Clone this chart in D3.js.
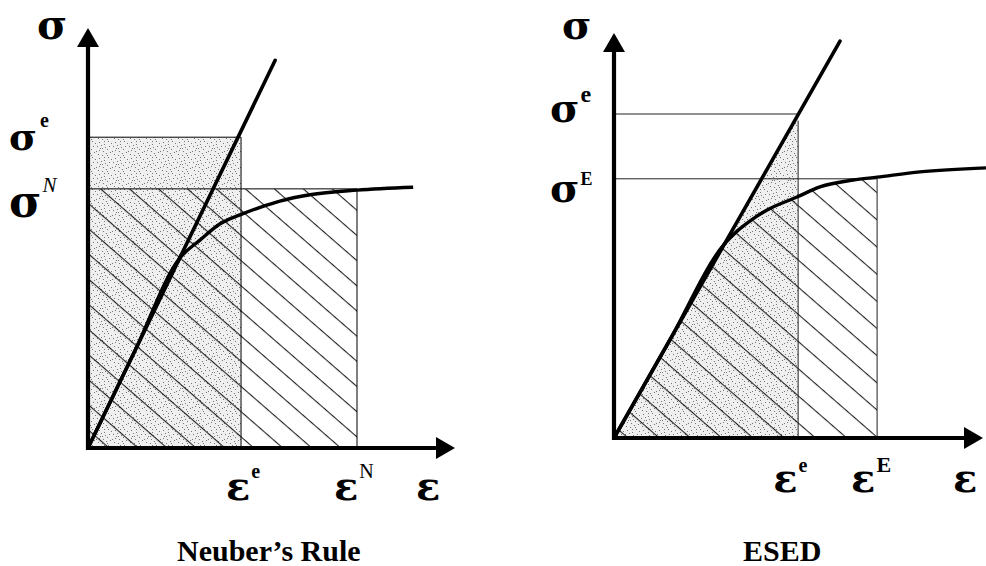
<!DOCTYPE html>
<html><head><meta charset="utf-8">
<script src="https://cdn.jsdelivr.net/npm/d3@7"></script>
<style>body{margin:0;background:#fff}svg{display:block}</style>
</head><body>
<svg id="c" width="986" height="566"></svg>
<script>
// ---------- data (normalised strain / stress units) ----------
// Neuber's rule panel
const leftStrain = [0, 0.125, 0.25, 0.305, 0.36, 0.414, 0.469, 0.523, 0.605, 0.733, 0.886];
const leftStress = [0, 0.226, 0.452, 0.495, 0.534, 0.555, 0.573, 0.588, 0.603, 0.614, 0.621];
const leftModulus = 1.81;          // slope of elastic line
const leftLineEnd = 0.51;          // strain where elastic line stops
const leftEpsE = 0.417, leftEpsN = 0.733;   // ε^e, ε^N
const leftSigE = 0.740, leftSigN = 0.617;   // σ^e, σ^N

// ESED panel
const rightStrain = [0, 0.15, 0.30, 0.335, 0.37, 0.415, 0.496, 0.558, 0.648, 0.713, 0.829, 1.008];
const rightStress = [0, 0.24, 0.48, 0.512, 0.537, 0.563, 0.595, 0.620, 0.637, 0.644, 0.657, 0.667];
const rightModulus = 1.6;
const rightLineEnd = 0.6125;
const rightEpsE = 0.499, rightEpsEE = 0.713;  // ε^e, ε^E
const rightSigE = 0.800, rightSigEE = 0.640;  // σ^e, σ^E

const titles = ["Neuber\u2019s Rule", "ESED"];

// ---------- drawing ----------
const svg = d3.select("#c");
const defs = svg.append("defs");
const FONT = "'Liberation Serif','Times New Roman',serif";
const GREEK = "'DejaVu Serif','Liberation Serif',serif";

// stipple texture (deterministic dot tile)
const stippleDots = [[1,2],[5,1],[9,3],[3,6],[7,7],[11,5],[2,10],[6,11],[10,9],[4,4],[8,0],[0,7],[11,11],[6,4],[13,2],[14,8],[12,13],[3,14],[8,13],[15,15]];
const st = defs.append("pattern").attr("id","stipple").attr("patternUnits","userSpaceOnUse")
  .attr("width",16).attr("height",16);
st.append("rect").attr("width",16).attr("height",16).attr("fill","#efefef");
st.selectAll("rect.d").data(stippleDots).join("rect").attr("class","d")
  .attr("x",d=>d[0]).attr("y",d=>d[1]).attr("width",1).attr("height",1).attr("fill","#777");

function hatch(id, spacing){
  const p = defs.append("pattern").attr("id",id).attr("patternUnits","userSpaceOnUse")
    .attr("width",20).attr("height",spacing).attr("patternTransform","rotate(41)");
  p.append("rect").attr("x",0).attr("y",0).attr("width",20).attr("height",1.1).attr("fill","#222");
}
hatch("hatchL", 19);
hatch("hatchR", 20.5);

function arrowUp(g, x, yTip){
  g.append("path").attr("d",`M${x},${yTip} L${x-11},${yTip+19} L${x+11},${yTip+19} Z`).attr("fill","#000");
}
function arrowRight(g, xTip, y){
  g.append("path").attr("d",`M${xTip},${y} L${xTip-19},${y-11} L${xTip-19},${y+11} Z`).attr("fill","#000");
}

// base glyph + superscript in one text element; superscript placed at supDx from glyph origin
function glyphLabel(g, x, y, base, size, sup, supSize, supDx, supDy, supItalic, supBold){
  const t = g.append("text").attr("x",x).attr("y",y).attr("fill","#000");
  const bt = t.append("tspan").attr("font-family",GREEK).attr("font-weight","bold")
    .attr("font-size",size).text(base);
  const b = t.node().getBBox();
  if (b.y < 0.5) t.attr("y", y + (0.5 - b.y));
  if (sup){
    const adv = bt.node().getComputedTextLength();
    t.append("tspan").attr("dx", Math.max(1, supDx - adv)).attr("dy", supDy).attr("font-family",FONT)
      .attr("font-size",supSize).attr("font-weight",supBold?"bold":"normal")
      .attr("font-style",supItalic?"italic":"normal").text(sup);
  }
}

function panel(opt){
  const g = svg.append("g");
  const x = d3.scaleLinear().domain([0,1]).range(opt.xr);
  const y = d3.scaleLinear().domain([0,1]).range(opt.yr);
  const pts = opt.strain.map((s,i)=>[s, opt.stress[i]]);
  const clipId = "clip"+opt.id;
  g.append("clipPath").attr("id",clipId).append("rect")
    .attr("x",x(0)).attr("y",0).attr("width",x(opt.hatchTo)-x(0)).attr("height",y(0));

  // shaded areas
  if (opt.type === "neuber"){
    g.append("rect").attr("x",x(0)).attr("y",y(opt.sigE)).attr("width",x(opt.epsE)-x(0))
      .attr("height",y(0)-y(opt.sigE)).attr("fill","url(#stipple)");
    g.append("rect").attr("x",x(0)).attr("y",y(opt.sigN)).attr("width",x(opt.epsN)-x(0))
      .attr("height",y(0)-y(opt.sigN)).attr("fill","url(#hatchL)");
    const thin = [
      [[0,opt.sigE],[opt.epsE,opt.sigE]], [[opt.epsE,opt.sigE],[opt.epsE,0]],
      [[0,opt.sigN],[opt.epsN,opt.sigN]], [[opt.epsN,opt.sigN],[opt.epsN,0]]
    ];
    g.selectAll("line.thin").data(thin).join("line").attr("class","thin")
      .attr("x1",d=>x(d[0][0])).attr("y1",d=>y(d[0][1])).attr("x2",d=>x(d[1][0])).attr("y2",d=>y(d[1][1]))
      .attr("stroke","#000").attr("stroke-width",1);
  } else {
    const tri = [[0,0],[opt.epsE, opt.modulus*opt.epsE],[opt.epsE,0]];
    g.append("path").attr("d", d3.line().x(d=>x(d[0])).y(d=>y(d[1]))(tri)+"Z").attr("fill","url(#stipple)");
    const area = d3.area().x(d=>x(d[0])).y0(y(0)).y1(d=>y(d[1])).curve(d3.curveMonotoneX);
    g.append("path").attr("d",area(pts)).attr("fill","url(#hatchR)").attr("clip-path",`url(#${clipId})`);
    const thin = [
      [[0,opt.sigE],[opt.epsE,opt.sigE]], [[opt.epsE,opt.modulus*opt.epsE-0.015],[opt.epsE,0]],
      [[0,opt.sigN],[opt.epsN,opt.sigN]], [[opt.epsN,opt.sigN],[opt.epsN,0]]
    ];
    g.selectAll("line.thin").data(thin).join("line").attr("class","thin")
      .attr("x1",d=>x(d[0][0])).attr("y1",d=>y(d[0][1])).attr("x2",d=>x(d[1][0])).attr("y2",d=>y(d[1][1]))
      .attr("stroke","#222").attr("stroke-width",1);
  }

  // elastic line
  g.append("line").attr("x1",x(0)).attr("y1",y(0))
    .attr("x2",x(opt.lineEnd)).attr("y2",y(opt.modulus*opt.lineEnd))
    .attr("stroke","#000").attr("stroke-width",3.6).attr("stroke-linecap","round");
  // stress-strain curve
  g.append("path").attr("d", d3.line().x(d=>x(d[0])).y(d=>y(d[1])).curve(d3.curveMonotoneX)(pts))
    .attr("fill","none").attr("stroke","#000").attr("stroke-width",3.4);

  // axes
  const ax = g.append("g").attr("transform",`translate(0,${y(0)})`)
    .call(d3.axisBottom(x).tickValues([]).tickSizeOuter(0));
  const ay = g.append("g").attr("transform",`translate(${x(0)},0)`)
    .call(d3.axisLeft(y).tickValues([]).tickSizeOuter(0));
  ax.select(".domain").attr("stroke-width",4.2).attr("stroke","#000")
    .attr("d",`M${x(0)-2},0H${x(1)-16}`);
  ay.select(".domain").attr("stroke-width",4.2).attr("stroke","#000")
    .attr("d",`M0,${y(0)+2}V${y(1)+16}`);
  arrowUp(g, x(0), y(1));
  arrowRight(g, x(1), y(0));

  // labels
  opt.labels(g, x, y);
  g.append("text").attr("x",opt.titleX).attr("y",561).attr("font-family",FONT)
    .attr("font-weight","bold").attr("font-size",30).text(opt.title);
}

panel({
  id:"L", type:"neuber", xr:[88,455], yr:[448,28],
  strain:leftStrain, stress:leftStress, modulus:leftModulus, lineEnd:leftLineEnd,
  epsE:leftEpsE, epsN:leftEpsN, sigE:leftSigE, sigN:leftSigN, hatchTo:leftEpsN,
  title:titles[0], titleX:177,
  labels:(g,x,y)=>{
    glyphLabel(g, 37, 36, "σ", 41);
    glyphLabel(g, 9, y(leftSigE)+13, "σ", 38, "e", 20, 31, -23, false, true);
    glyphLabel(g, 9, y(leftSigN)+28, "σ", 44, "N", 21, 31, -25, true, false);
    glyphLabel(g, x(leftEpsE)-15, 500, "ε", 40, "e", 20, 24, -22, false, true);
    glyphLabel(g, x(leftEpsN)-23, 500, "ε", 40, "N", 20, 24, -22, false, false);
    glyphLabel(g, 416, 500, "ε", 40);
  }
});

panel({
  id:"R", type:"esed", xr:[614,983], yr:[438,33],
  strain:rightStrain, stress:rightStress, modulus:rightModulus, lineEnd:rightLineEnd,
  epsE:rightEpsE, epsN:rightEpsEE, sigE:rightSigE, sigN:rightSigEE, hatchTo:rightEpsEE,
  title:titles[1], titleX:743,
  labels:(g,x,y)=>{
    glyphLabel(g, 562, 36, "σ", 40);
    glyphLabel(g, 550, y(rightSigE)+8, "σ", 40, "e", 24, 28, -20, false, true);
    glyphLabel(g, 550, y(rightSigEE)+23, "σ", 40, "E", 18, 29, -17, false, true);
    glyphLabel(g, x(rightEpsE)-25, 492, "ε", 40, "e", 20, 24, -20, false, true);
    glyphLabel(g, x(rightEpsEE)-26, 492, "ε", 40, "E", 22, 24, -20, false, true);
    glyphLabel(g, 953, 492, "ε", 40);
  }
});
</script>
</body></html>
